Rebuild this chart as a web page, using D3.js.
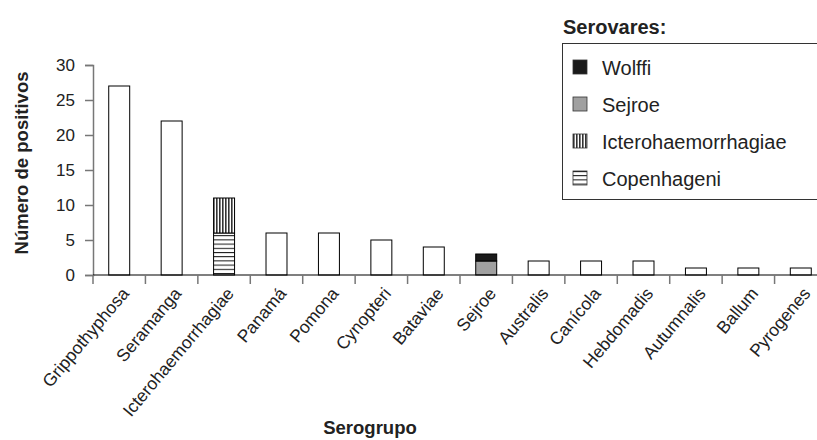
<!DOCTYPE html>
<html>
<head>
<meta charset="utf-8">
<script src="https://cdn.jsdelivr.net/npm/d3@7"></script>
<style>
  body { margin: 0; background: #fff; }
  text { font-family: "Liberation Sans", Arial, sans-serif; }
</style>
</head>
<body>
<div id="chart"></div>
<script>
// data
const categories = ["Grippothyphosa", "Seramanga", "Icterohaemorrhagiae", "Panamá", "Pomona",
  "Cynopteri", "Bataviae", "Sejroe", "Australis", "Canícola", "Hebdomadis", "Autumnalis",
  "Ballum", "Pyrogenes"];
const totals = [27, 22, 11, 6, 6, 5, 4, 3, 2, 2, 2, 1, 1, 1];
// serovar breakdown (only two serogroups are split)
const serovares = ["Wolffi", "Sejroe", "Icterohaemorrhagiae", "Copenhageni"];
const copenhageni = [0, 0, 6, 0, 0, 0, 0, 0, 0, 0, 0, 0, 0, 0];
const ictero = [0, 0, 5, 0, 0, 0, 0, 0, 0, 0, 0, 0, 0, 0];
const sejroe = [0, 0, 0, 0, 0, 0, 0, 2, 0, 0, 0, 0, 0, 0];
const wolffi = [0, 0, 0, 0, 0, 0, 0, 1, 0, 0, 0, 0, 0, 0];
const yTicks = [0, 5, 10, 15, 20, 25, 30];

const width = 817, height = 440;
const margin = { top: 65, bottom: 165, left: 93 };
const plotRight = 827; // the last band runs past the right edge (cropped)

const svg = d3.select("#chart").append("svg")
  .attr("width", width).attr("height", height);

const defs = svg.append("defs");
// vertical stripes
const pv = defs.append("pattern").attr("id", "vert").attr("patternUnits", "userSpaceOnUse")
  .attr("width", 3).attr("height", 3);
pv.append("rect").attr("width", 3).attr("height", 3).attr("fill", "#fff");
pv.append("rect").attr("width", 1.6).attr("height", 3).attr("fill", "#333");
// horizontal lines
const ph = defs.append("pattern").attr("id", "horiz").attr("patternUnits", "userSpaceOnUse")
  .attr("width", 4).attr("height", 4.2);
ph.append("rect").attr("width", 4).attr("height", 4.2).attr("fill", "#fff");
ph.append("rect").attr("width", 4).attr("height", 1).attr("fill", "#111");

const x = d3.scaleBand().domain(categories)
  .range([margin.left, plotRight]).paddingInner(0.6).paddingOuter(0.3);
const y = d3.scaleLinear().domain([0, 30]).range([height - margin.bottom, margin.top]);

const rows = categories.map((c, i) => ({
  cat: c, total: totals[i],
  parts: [
    { v: copenhageni[i], fill: "url(#horiz)" },
    { v: ictero[i], fill: "url(#vert)" },
    { v: sejroe[i], fill: "#a0a0a0" },
    { v: wolffi[i], fill: "#1a1a1a" }
  ]
}));

// plain bars
svg.selectAll("rect.bar").data(rows.filter(d => d.parts.every(p => p.v === 0)))
  .enter().append("rect").attr("class", "bar")
  .attr("x", d => x(d.cat)).attr("width", x.bandwidth())
  .attr("y", d => y(d.total)).attr("height", d => y(0) - y(d.total))
  .attr("fill", "#fff").attr("stroke", "#000").attr("stroke-width", 1);

// stacked bars
rows.filter(d => d.parts.some(p => p.v > 0)).forEach(d => {
  let acc = 0;
  d.parts.forEach(p => {
    if (p.v === 0) return;
    svg.append("rect")
      .attr("x", x(d.cat)).attr("width", x.bandwidth())
      .attr("y", y(acc + p.v)).attr("height", y(acc) - y(acc + p.v))
      .attr("fill", p.fill).attr("stroke", "#000").attr("stroke-width", 1);
    acc += p.v;
  });
});

// y axis
const yAxis = svg.append("g").attr("transform", `translate(${margin.left},0)`)
  .call(d3.axisLeft(y).tickValues(yTicks).tickSize(8).tickPadding(10));
yAxis.select(".domain").attr("stroke", "#777").attr("stroke-width", 1.5);
yAxis.selectAll(".tick line").attr("stroke", "#777").attr("stroke-width", 1.5);
yAxis.selectAll("text").attr("font-size", 17).attr("fill", "#222")
  .style("font-family", "'Liberation Sans', Arial, sans-serif");

// x axis: ticks at band boundaries
const xAxis = svg.append("g");
xAxis.append("line").attr("x1", margin.left).attr("x2", width)
  .attr("y1", y(0)).attr("y2", y(0)).attr("stroke", "#000").attr("stroke-width", 1.2);
const bounds = d3.range(categories.length).map(i => x(categories[i]) - x.step() * x.paddingInner() / 2);
xAxis.selectAll("line.tk").data(bounds).enter().append("line").attr("class", "tk")
  .attr("x1", d => d).attr("x2", d => d).attr("y1", y(0)).attr("y2", y(0) + 9)
  .attr("stroke", "#777").attr("stroke-width", 1.5);
xAxis.selectAll("text").data(categories).enter().append("text")
  .attr("transform", d => `translate(${x(d) + x.bandwidth() / 2 + 6},${y(0) + 15}) rotate(-50)`)
  .attr("text-anchor", "end").attr("dy", "0.35em")
  .attr("font-size", 17.5).attr("fill", "#222").text(d => d);

// axis titles
svg.append("text").attr("transform", `translate(28,${163}) rotate(-90)`)
  .attr("text-anchor", "middle").attr("font-size", 18.5).attr("font-weight", "bold")
  .attr("fill", "#222").text("Número de positivos");
svg.append("text").attr("x", 370).attr("y", 434).attr("text-anchor", "middle")
  .attr("font-size", 18.5).attr("font-weight", "bold").attr("fill", "#222").text("Serogrupo");

// legend
svg.append("text").attr("x", 563).attr("y", 34).attr("font-size", 20)
  .attr("font-weight", "bold").attr("fill", "#222").text("Serovares:");
svg.append("rect").attr("x", 562.5).attr("y", 43.5).attr("width", 270).attr("height", 156)
  .attr("fill", "#fff").attr("stroke", "#333").attr("stroke-width", 1);
const legFill = ["#1a1a1a", "#a0a0a0", "url(#vert)", "url(#horiz)"];
const leg = svg.selectAll("g.leg").data(serovares).enter().append("g").attr("class", "leg")
  .attr("transform", (d, i) => `translate(573,${60 + i * 37})`);
leg.append("rect").attr("width", 14).attr("height", 14)
  .attr("fill", (d, i) => legFill[i]).attr("stroke", "#333").attr("stroke-width", 0.8);
leg.append("text").attr("x", 29).attr("y", 8).attr("dy", "0.35em")
  .attr("font-size", 20).attr("fill", "#222").text(d => d);
</script>
</body>
</html>
